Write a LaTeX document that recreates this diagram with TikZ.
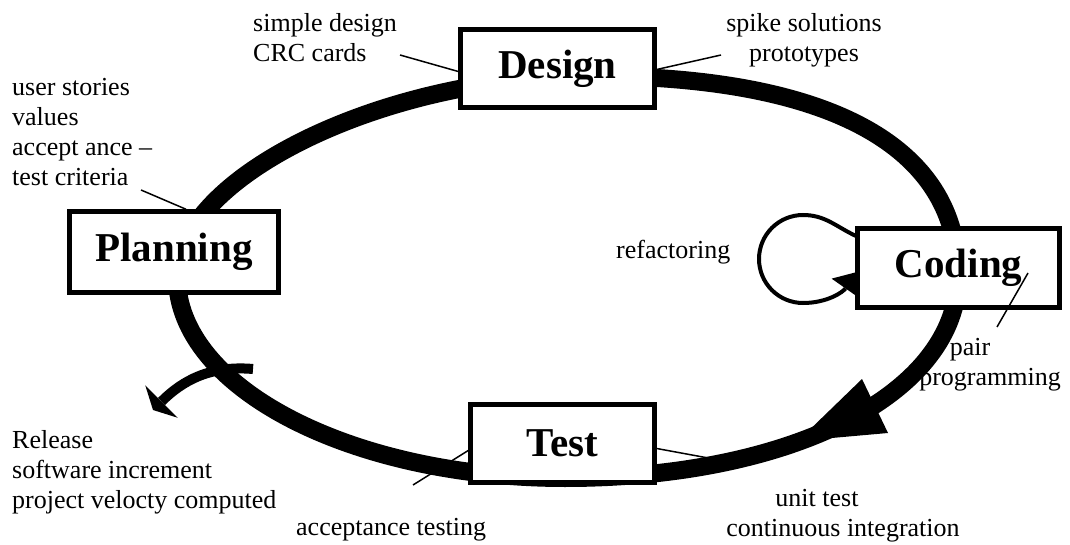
\documentclass[tikz,border=0pt]{standalone}
\usepackage{fontspec}
\setmainfont{Liberation Serif}
\usetikzlibrary{arrows.meta}

\begin{document}
\begin{tikzpicture}[x=1pt, y=1pt,
  phase/.style={draw, line width=4.5pt, fill=white, inner sep=0pt,
                font=\fontsize{41}{48}\selectfont\bfseries},
  note/.style={inner sep=0pt, font=\fontsize{26}{30}\selectfont},
  leader/.style={line width=1.5pt},
  cycle/.style={line width=18pt}
]
\useasboundingbox (0,0) rectangle (1070,544);

% the big iteration loop, one quarter at a time
\draw[cycle] (177,267) .. controls (177,367) and (384,468) .. (590,468)
  .. controls (829,468) and (958,398) .. (958,268)
  .. controls (958,151) and (793,66) .. (565,66)
  .. controls (352,66) and (177,156) .. cycle;
\fill (862,165) -- (888,111) -- (798,103) -- cycle;

% release leaves the loop
\draw[line width=10pt, -{Triangle[length=12pt, width=46pt, line width=0pt]}]
  (253,175) to[out=175, in=45] (153,134);

% refactoring loop
\draw[line width=4pt, -{Triangle[length=20pt, width=34pt, line width=0pt]}]
  (856,308) to[out=155, in=0] (803,329)
  arc[start angle=90, end angle=270, radius=44pt]
  to[out=0, in=235] (857,272);

% phases
\node[phase, minimum width=194pt, minimum height=78pt] (design)   at (557.5,475.5) {Design};
\node[phase, minimum width=209pt, minimum height=81pt] (planning) at (174,292)     {Planning};
\node[phase, minimum width=202pt, minimum height=79pt] (coding)   at (958.5,276)   {Coding};
\node[phase, minimum width=184pt, minimum height=78pt] (test)     at (562.5,100.5) {Test};

% practices
\node[note, anchor=north west, align=left] (simple) at (253,531) {simple design\\CRC cards};
\node[note, anchor=north, align=center] (spike) at (804,531) {spike solutions\\prototypes};
\node[note, anchor=north west, align=left] (stories) at (12,466)
  {user stories\\values\\accept ance --\\test criteria};
\node[note, anchor=base west] (refac) at (616,285) {refactoring};
\node[note, anchor=north west, align=left] (release) at (12,114)
  {Release\\software increment\\project velocty computed};
\node[note, anchor=base west] (accept) at (296,9) {acceptance testing};
\node[note, anchor=north, align=center] (unit) at (843,55)
  {unit test\hspace*{52pt}\\continuous integration};
\node[note, anchor=north, align=center] (pair) at (990,206)
  {pair\hspace*{40pt}\\programming};

% leader lines
\coordinate (simple-tail) at (400,489);
\coordinate (spike-tail) at (721,489);
\coordinate (stories-tail) at (141,354);
\coordinate (accept-tail) at (413,59);
\coordinate (unit-tail) at (730,82);
\coordinate (pair-tail) at (997,217);
\coordinate (pair-head) at (1028,271);
\draw[leader] (simple-tail) -- ([yshift=-3pt]design.west);
\draw[leader] (spike-tail) -- ([yshift=-1pt]design.east);
\draw[leader] (stories-tail) -- ([xshift=12pt]planning.north);
\draw[leader] (accept-tail) -- ([yshift=-7pt]test.west);
\draw[leader] ([yshift=-5pt]test.east) -- (unit-tail);
\draw[leader] (pair-tail) -- (pair-head);
\end{tikzpicture}
\end{document}
